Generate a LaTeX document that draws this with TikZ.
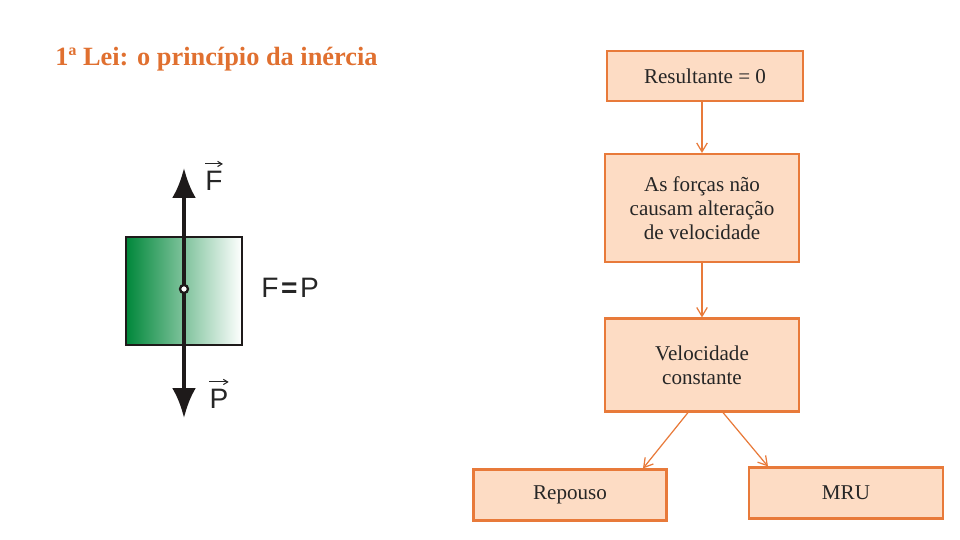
\documentclass[tikz,border=0pt]{standalone}
\usepackage{amsmath}
\usepackage{fontspec}
\setmainfont{Liberation Serif}
\setsansfont{Liberation Sans}
\usepackage{tikz}
\usetikzlibrary{arrows.meta, positioning}
\definecolor{TitleOrange}{RGB}{224, 112, 48}
\definecolor{LineOrange}{RGB}{232, 122, 58}
\definecolor{BoxPeach}{RGB}{253, 220, 196}
\definecolor{BlockGreen}{RGB}{0, 135, 58}
\definecolor{ForceBlack}{RGB}{30, 26, 26}
\begin{document}
\begin{tikzpicture}[
            x=0.02cm, y=-0.02cm,
            box/.style={draw=LineOrange, line width=1.2pt, fill=BoxPeach, align=center, font=\fontsize{12}{13.6}\selectfont, text=black!85, inner sep=0pt},
            link/.style={-{Straight Barb[length=5pt, width=6pt]}, LineOrange, line width=0.7pt},
            force/.style={-{Latex[length=17pt, width=13.5pt]}, ForceBlack, line width=2.3pt},
            vecarrow/.style={-{Straight Barb[length=2.5pt, width=3pt]}, black!85, line width=0.6pt},
            lbl/.style={font=\sffamily\fontsize{16}{18}\selectfont, text=black!85, inner sep=0pt}
        ]
        \useasboundingbox (0,0) rectangle (960,540);

        % --- TITULO ---
        \node[font=\bfseries\fontsize{15}{18}\selectfont, TitleOrange, anchor=west, inner sep=0pt] (title) at (55, 59) {1ª Lei: o princípio da inércia};

        % --- BLOCO E FORCAS ---
        \node[draw=ForceBlack, line width=1.2pt, left color=BlockGreen, right color=white, minimum width=116*0.02cm, minimum height=108*0.02cm, inner sep=0pt] (block) at (184, 291) {};
        \coordinate (ftip) at (184, 168);
        \coordinate (ptip) at (184, 418);
        \draw[force] (block.center) ++(0, -2) -- (ftip);
        \draw[force] (block.center) ++(0, 2) -- (ptip);
        \node[circle, draw=ForceBlack, line width=1.3pt, fill=white, minimum size=8*0.02cm, inner sep=0pt] (dot) at (184, 289) {};

        \node[lbl] (fvec) at (214, 181) {F};
        \node[lbl] (pvec) at (219, 399) {P};
        \draw[vecarrow] ([yshift=4pt]fvec.north west) -- ([yshift=4pt]fvec.north east);
        \draw[vecarrow] ([yshift=4pt]pvec.north west) -- ([yshift=4pt]pvec.north east);
        \node[lbl, anchor=west] (igual) at (261, 288) {F\kern1.5pt{\bfseries =}\kern1.5pt P};

        % --- DIAGRAMA ---
        \node[box, minimum width=196*0.02cm, minimum height=50*0.02cm] (res) at (705, 76) {Resultante = 0};
        \node[box, minimum width=194*0.02cm, minimum height=108*0.02cm] (forcas) at (702, 208) {As forças não\\causam alteração\\de velocidade};
        \node[box, minimum width=194*0.02cm, minimum height=93*0.02cm] (vel) at (702, 365) {Velocidade\\constante};
        \node[box, minimum width=193*0.02cm, minimum height=51*0.02cm] (repouso) at (570, 495) {Repouso};
        \node[box, minimum width=194*0.02cm, minimum height=51*0.02cm] (mru) at (846, 493) {MRU};

        \draw[link] (res.south -| forcas) -- (forcas.north);
        \draw[link] (forcas) -- (vel);
        \draw[link] ([xshift=-14*0.02cm]vel.south) -- ([xshift=73*0.02cm]repouso.north);
        \draw[link] ([xshift=21*0.02cm]vel.south) -- ([xshift=-78*0.02cm]mru.north);

        \end{tikzpicture}
\end{document}
